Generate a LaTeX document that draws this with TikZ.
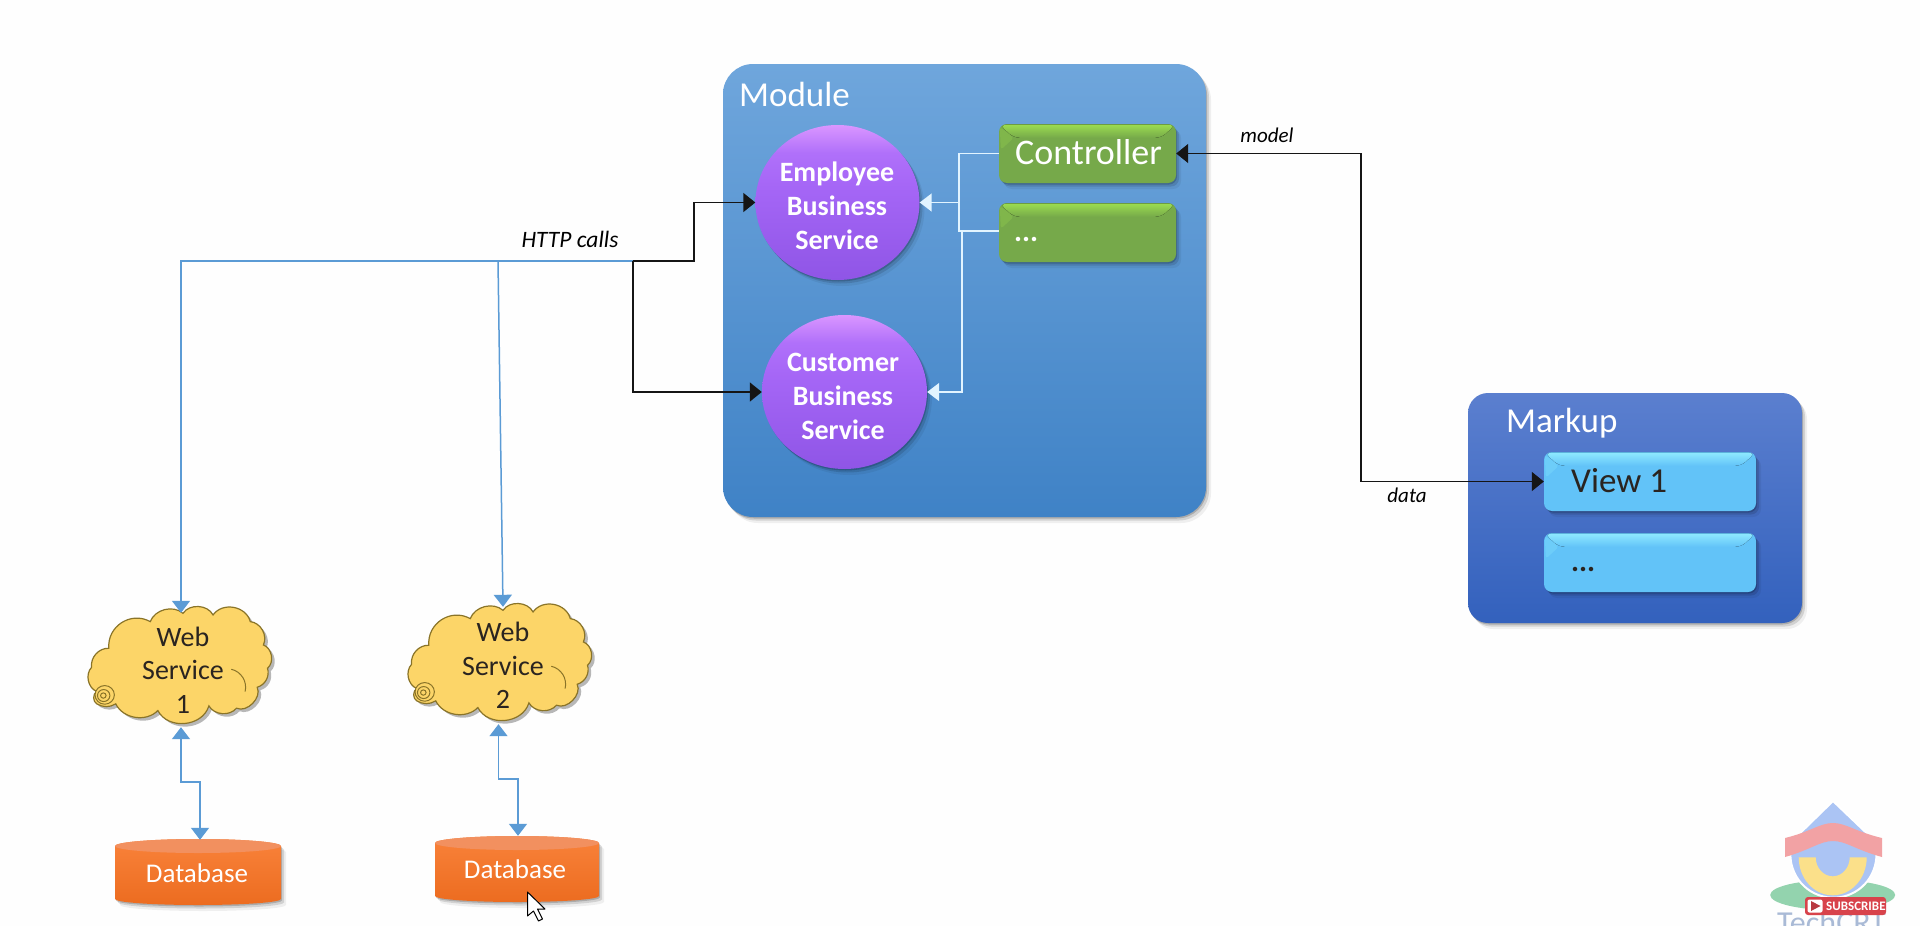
\documentclass[tikz,border=0pt]{standalone}
\usepackage{fontspec}
\setmainfont{Carlito}
\usetikzlibrary{arrows.meta,shapes.geometric,shadows,calc}
\definecolor{paper}{HTML}{FEFEFE}
\definecolor{modtop}{HTML}{6FA6DC}
\definecolor{modbot}{HTML}{3F82C6}
\definecolor{martop}{HTML}{5B7FCF}
\definecolor{marbot}{HTML}{3361BD}
\definecolor{purtop}{HTML}{DA96FF}
\definecolor{purhi}{HTML}{B070FA}
\definecolor{purmid}{HTML}{A566F6}
\definecolor{purbot}{HTML}{8F55E6}
\definecolor{grnbase}{HTML}{76A94A}
\definecolor{grnlite}{HTML}{9ADB50}
\definecolor{cyanbase}{HTML}{62C3F8}
\definecolor{cyanlite}{HTML}{8DE8FF}
\definecolor{orgtop}{HTML}{F9823A}
\definecolor{orgbot}{HTML}{EC6C20}
\definecolor{orgcap}{HTML}{F2905F}
\definecolor{cloudfill}{HTML}{FCD568}
\definecolor{cloudline}{HTML}{8A7428}
\definecolor{linkblue}{HTML}{5B9BD5}
\definecolor{linkdark}{HTML}{151515}
\definecolor{linkwhite}{HTML}{E2F4FF}
\definecolor{inktext}{HTML}{2A2420}
\definecolor{logoblue}{HTML}{ABC4F4}
\definecolor{logogreen}{HTML}{93D3AE}
\definecolor{logored}{HTML}{F2A2A4}
\definecolor{logoyellow}{HTML}{FBE08A}
\definecolor{logotext}{HTML}{A9BAD6}
\definecolor{subred}{HTML}{D8434B}
\pgfdeclareverticalshading{ballshade}{100bp}{color(0bp)=(purbot); color(25bp)=(purbot); color(55bp)=(purmid); color(66bp)=(purhi); color(75bp)=(purtop); color(100bp)=(purtop)}
\tikzset{
  softshadow/.style={
    drop shadow={shadow xshift=1pt,shadow yshift=-1.5pt,opacity=.18,fill=black},
    drop shadow={shadow xshift=3pt,shadow yshift=-3.5pt,opacity=.12,fill=black},
    drop shadow={shadow xshift=5pt,shadow yshift=-6pt,opacity=.06,fill=black}},
  panel/.style={rounded corners=30pt,inner sep=0pt,softshadow},
  ballnode/.style={ellipse,inner sep=0pt,shading=ballshade,softshadow},
  barbox/.style={rounded corners=8pt,inner sep=0pt,softshadow},
  darklink/.style={draw=linkdark,line width=1.5pt,{Triangle[length=12pt,width=19pt]}-{Triangle[length=12pt,width=19pt]}},
  darkone/.style={draw=linkdark,line width=1.5pt,-{Triangle[length=12pt,width=19pt]}},
  whitelink/.style={draw=linkwhite,line width=1.5pt},
  whitearrow/.style={whitelink,-{Triangle[length=12pt,width=18pt]}},
  bluelink/.style={draw=linkblue,line width=1.5pt},
  bluearrow/.style={bluelink,-{Triangle[length=12pt,width=18pt]}},
  bluebi/.style={bluelink,{Triangle[length=12pt,width=18pt]}-{Triangle[length=12pt,width=18pt]}},
  wstext/.style={align=center,inner sep=0pt,text=inktext,font=\fontsize{28}{33.5}\selectfont},
  dbtext/.style={inner sep=0pt,text=white,font=\fontsize{27}{32}\selectfont},
  balltext/.style={align=center,inner sep=0pt,text=white,font=\fontsize{28}{34}\selectfont\bfseries},
  headtext/.style={anchor=west,inner sep=0pt,text=white,font=\fontsize{35}{40}\selectfont},
  edgetext/.style={inner sep=0pt,text=black,font=\fontsize{21}{26}\selectfont\itshape},
}
% bevel overlay for a named bar node
\newcommand{\bevelon}[3]{%
  \fill[top color=#2,bottom color=#3,rounded corners=6pt] ($(#1.north west)+(1,1)$) -- ($(#1.north east)+(-1,1)$) -- ($(#1.north east)+(-15,14)$) -- ($(#1.north west)+(15,14)$) -- cycle;
  \fill[#2,opacity=.28,rounded corners=3pt] ($(#1.north west)+(1,3)$) -- ($(#1.north west)+(15,14)$) -- ($(#1.north west)+(2,26)$) -- cycle;
}
\newcommand{\cloudoutline}{(130,205) to[bend left=62,looseness=1.15] (250,125) to[bend left=55] (345,100) to[bend left=60] (432,105) to[bend left=65,looseness=1.1] (540,125) to[bend left=55] (578,195) to[bend left=60] (590,265) to[bend left=45] (560,322) to[bend left=70] (500,385) to[bend left=55] (420,378) to[bend left=68,looseness=1.1] (272,392) to[bend left=55] (150,372) to[bend left=30] (95,372) to[bend left=60] (95,335) to[bend left=55] (80,262) to[bend left=50] (130,205) -- cycle}
\newcommand{\cloudshape}[2]{%
  \begin{scope}[shift={(#1,#2)},x=0.345pt,y=-0.333pt]
    \fill[black,opacity=.28,shift={(9,9)}] \cloudoutline;
    \path[fill=cloudfill,draw=cloudline,line width=1.2pt] \cloudoutline;
    \draw[cloudline,line width=1pt] (485,268) to[bend left=45] (525,335);
    \path[fill=cloudfill,draw=cloudline,line width=1pt] (118,345) circle[radius=28];
    \draw[cloudline,line width=1pt] (115,347) circle[radius=18];
    \draw[cloudline,line width=1pt] (114,347) circle[radius=8];
  \end{scope}}
\newcommand{\dbshape}[4]{%
  \path[top color=orgtop,bottom color=orgbot,softshadow] (#1,#2+7) arc[x radius=(#3-#1)/2,y radius=7,start angle=180,end angle=360] -- (#3,#4-6) arc[x radius=(#3-#1)/2,y radius=6,start angle=0,end angle=180] -- cycle;
  \fill[orgcap] (#1,#2+7) arc[x radius=(#3-#1)/2,y radius=7,start angle=180,end angle=360] arc[x radius=(#3-#1)/2,y radius=7,start angle=0,end angle=180] -- cycle;
}
\begin{document}
\begin{tikzpicture}[x=1pt,y=-1pt]
\useasboundingbox (0,0) rectangle (1920,926);
\clip (0,0) rectangle (1920,926);
\fill[paper] (0,0) rectangle (1920,926);

% panels
\node[panel,top color=modtop,bottom color=modbot,minimum width=483pt,minimum height=453pt] (module) at (964.5,290.5) {};
\node[panel,rounded corners=20pt,top color=martop,bottom color=marbot,minimum width=334pt,minimum height=230pt] (markup) at (1635,508) {};
\node[headtext] (modlabel) at (739,94.5) {Module};
\node[headtext] (marlabel) at (1506,423) {Markup};

% services
\node[ballnode,minimum width=164pt,minimum height=155pt] (emp) at (837.5,202.5) {};
\node[ballnode,minimum width=165pt,minimum height=154pt] (cust) at (844.5,392) {};
\node[balltext] (emptext) at (837,205.5) {Employee\\Business\\Service};
\node[balltext] (custtext) at (843,396) {Customer\\Business\\Service};

% green bars
\node[barbox,fill=grnbase,minimum width=177pt,minimum height=59pt] (ctrl) at (1087.5,153.5) {};
\bevelon{ctrl}{grnlite}{grnbase}
\node[barbox,fill=grnbase,minimum width=177pt,minimum height=59pt] (dots) at (1087.5,232.5) {};
\bevelon{dots}{grnlite}{grnbase}
\node[anchor=west,inner sep=0pt,text=white,font=\fontsize{36}{40}\selectfont] (ctrltext) at (1015,152) {Controller};
\node[anchor=west,inner sep=0pt,text=white,font=\fontsize{30}{30}\selectfont\bfseries] (dotstext) at (1014,239) {...};

% cyan bars
\node[barbox,fill=cyanbase,minimum width=212pt,minimum height=59pt] (view) at (1650,481.5) {};
\bevelon{view}{cyanlite}{cyanbase}
\node[barbox,fill=cyanbase,minimum width=212pt,minimum height=59pt] (mdots) at (1650,562.5) {};
\bevelon{mdots}{cyanlite}{cyanbase}
\node[anchor=west,inner sep=0pt,text=inktext,font=\fontsize{35}{40}\selectfont] (viewtext) at (1571,481) {View 1};
\node[anchor=west,inner sep=0pt,text=inktext,font=\fontsize{30}{30}\selectfont\bfseries] (mdotstext) at (1571,569) {...};

% clouds
\cloudshape{64}{580}
\cloudshape{384}{577}
\node[wstext,minimum width=182pt,minimum height=114pt] (ws1) at (183,670) {Web\\Service\\1};
\node[wstext,minimum width=183pt,minimum height=117pt] (ws2) at (503,665.5) {Web\\Service\\2};

% databases
\dbshape{115}{839}{281}{905}
\dbshape{435}{836}{599}{902}
\node[dbtext,minimum width=166pt,minimum height=66pt] (db1) at (197,873) {Database};
\node[dbtext,minimum width=164pt,minimum height=66pt] (db2) at (515,869) {Database};

% junctions
\coordinate (j1) at (633,261);
\coordinate (j2) at (498,261);
\coordinate (j4) at (694,261);
\coordinate (w1) at (959,202.5);
\coordinate (w3) at (959,231);
\coordinate (w4) at (962,231);
\coordinate (ctlmid) at (1361,300);
\coordinate (db1mid) at (200,782);
\coordinate (db2mid) at (518,779);

% connectors
\draw[bluearrow] (j1) -| ([xshift=-2pt]ws1.north);
\draw[bluearrow] (j2) -- (ws2.north);
\draw[bluebi] ([xshift=-2pt]ws1.south) |- (db1mid) -- ([xshift=3pt]db1.north);
\draw[bluebi] ([xshift=-4.5pt]ws2.south) |- (db2mid) -- ([xshift=3pt]db2.north);
\draw[darkone] (j1) -- (j4) |- (emp.west);
\draw[darkone] (j1) |- (cust.west);
\draw[whitelink] (ctrl.west) -| (w3) -- (dots.west |- w3);
\draw[whitearrow] (w1) -- (emp.east);
\draw[whitearrow] (w4) |- (cust.east);
\draw[darklink] (ctrl.east) -| (ctlmid) |- (view.west);

% edge labels
\node[edgetext,font=\fontsize{23.5}{26}\selectfont\itshape] (httplabel) at (570,239) {HTTP calls};
\node[edgetext] (modellabel) at (1267,135) {model};
\node[edgetext] (datalabel) at (1407,495) {data};

% logo
\fill[logogreen] (1832.7,895) ellipse[x radius=62.5,y radius=15];
\path[fill=logoblue,draw=white,line width=2pt] (1833,801) -- (1793,840) arc[radius=43,start angle=200,end angle=-20] -- cycle;
\fill[logoyellow] (1798.7,857.3) arc[x radius=34,y radius=38,start angle=180,end angle=0] -- (1849.7,857.3) arc[x radius=17,y radius=19,start angle=0,end angle=180] -- cycle;
\fill[logored] (1785,838) .. controls (1810,832) and (1820,823) .. (1833,823) .. controls (1846,823) and (1856,832) .. (1882,838) -- (1882,857) .. controls (1856,850) and (1846,841) .. (1833,841) .. controls (1820,841) and (1810,850) .. (1785,857) -- cycle;
\node[anchor=base west,inner sep=0pt,text=logotext,font=\fontsize{32}{36}\selectfont] (techlabel) at (1777,933) {TechCRT};
\node[fill=subred,rounded corners=3pt,minimum width=81pt,minimum height=18pt,inner sep=0pt] (subbtn) at (1845.5,906) {};
\node[fill=white,rounded corners=2pt,minimum width=15pt,minimum height=13pt,inner sep=0pt] (subicon) at (1815,906) {};
\fill[subred!85!black] (1811,901) -- (1820.5,906) -- (1811,911) -- cycle;
\node[anchor=west,inner sep=0pt,text=white,font=\fontsize{13}{14}\selectfont\bfseries] (sublabel) at (1826,906) {SUBSCRIBE};

% pointer
\path[fill=white,draw=black,line width=1pt,line join=round] (527.5,892) -- ++(0,24) -- ++(6,-5) -- ++(5,10) -- ++(4,-2) -- ++(-5,-10) -- ++(7.5,0) -- cycle;
\end{tikzpicture}
\end{document}
